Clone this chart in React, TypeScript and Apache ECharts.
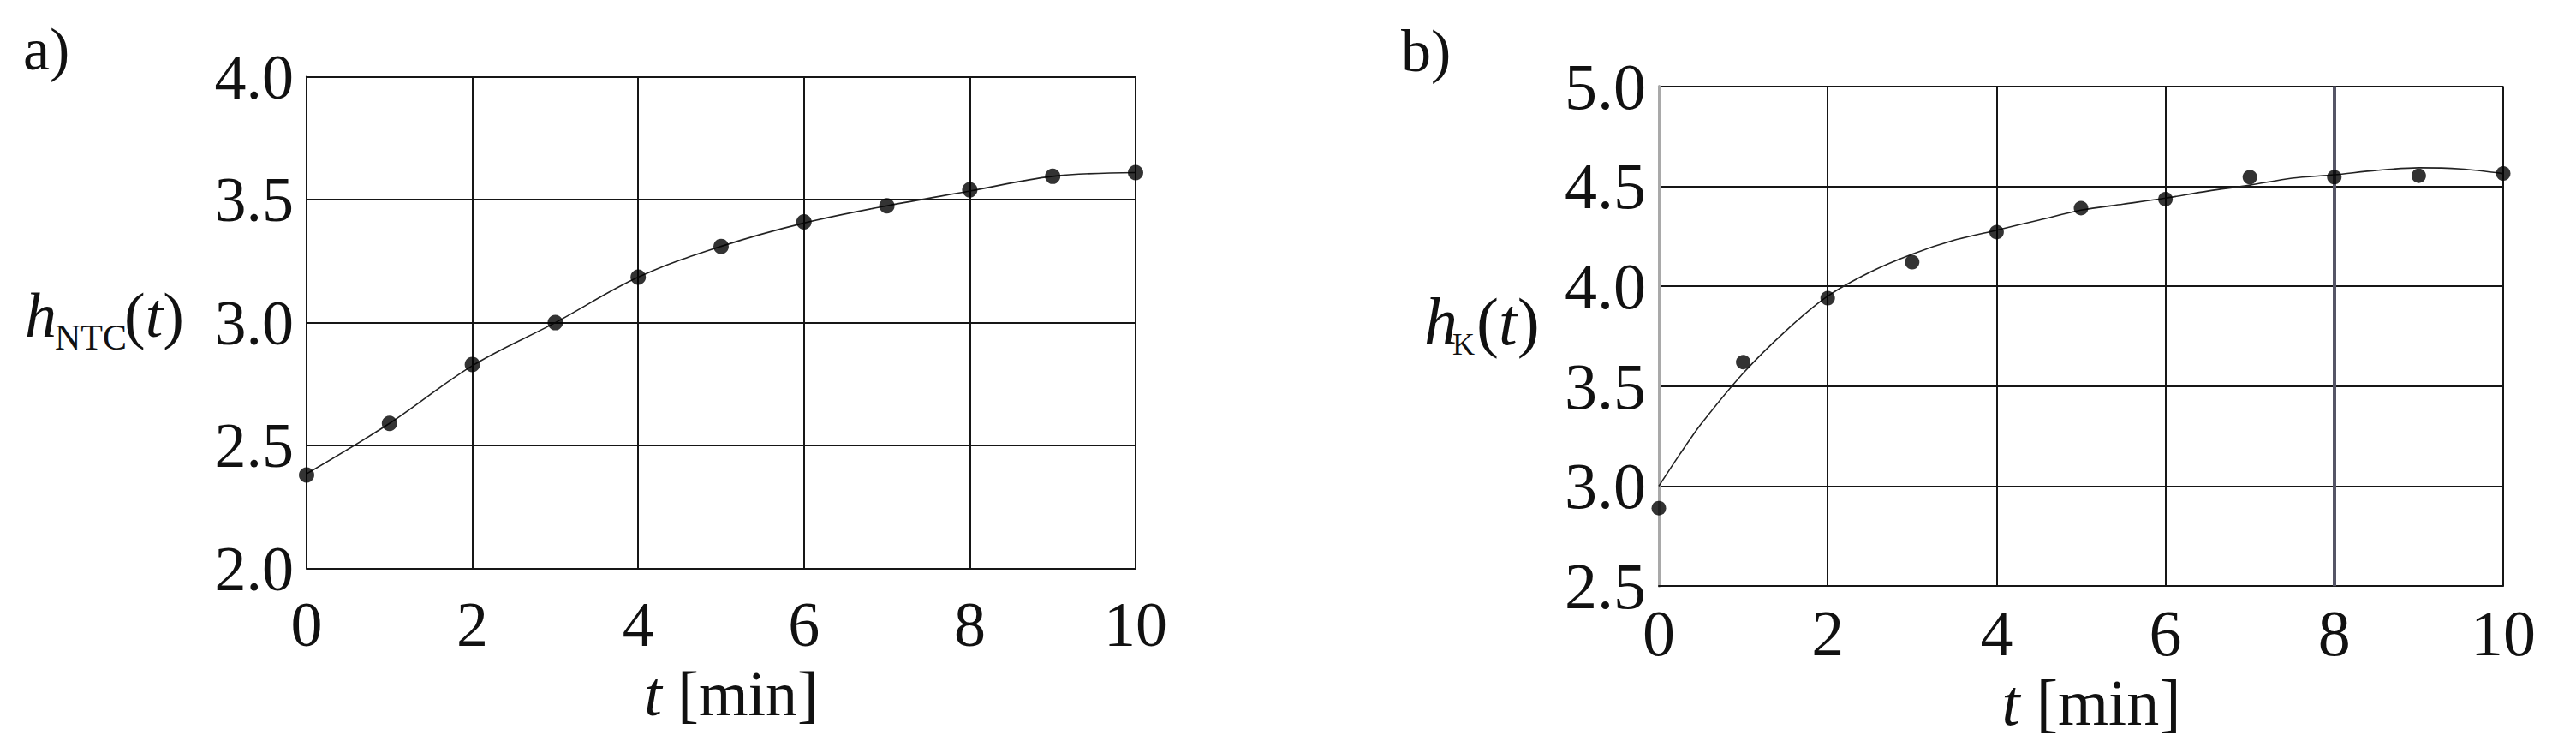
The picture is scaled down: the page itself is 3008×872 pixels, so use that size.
import { useEffect, useRef } from "react";
import * as echarts from "echarts";

// ---- data ----
const tPoints = [0, 1, 2, 3, 4, 5, 6, 7, 8, 9, 10];
const hNTC = [2.38, 2.59, 2.83, 3.0, 3.185, 3.31, 3.41, 3.475, 3.54, 3.595, 3.61];
const fitNTC = [2.385, 2.59, 2.825, 3.0, 3.185, 3.31, 3.405, 3.475, 3.535, 3.595, 3.61];

const hK = [2.89, 3.62, 3.94, 4.12, 4.27, 4.39, 4.435, 4.545, 4.545, 4.552, 4.563];
const fitKT = [0, 0.25, 0.5, 1, 1.5, 2, 2.5, 3, 3.5, 4, 4.5, 5, 5.5, 6, 6.5, 7, 7.5, 8, 8.5, 9, 9.5, 10];
const fitK = [3.0, 3.16, 3.31, 3.565, 3.775, 3.95, 4.07, 4.16, 4.23, 4.28, 4.33, 4.38, 4.41, 4.44, 4.475, 4.505, 4.54, 4.557, 4.579, 4.592, 4.586, 4.563];

const panelLabels = ["a)", "b)"];
const yTitleSubs = ["NTC", "K"];
const xTitle = "{i|t} [min]";

const FONT = "'Liberation Serif', 'DejaVu Serif', serif";
const INK = "#161616";

const zip = (xs: number[], ys: number[]) => xs.map((x, i) => [x, ys[i]]);

export default function App() {
  const ref = useRef<HTMLDivElement>(null);
  useEffect(() => {
    document.body.style.margin = "0";
    const chart = echarts.init(ref.current!, undefined, { renderer: "svg" });

    const xAxisBase = (gridIndex: number, margin: number, nameGap: number, fs: number, showMin: boolean) => ({
      type: "value",
      gridIndex,
      min: 0,
      max: 10,
      interval: 2,
      axisLine: { show: true, lineStyle: { color: INK, width: 2 } },
      axisTick: { show: false },
      splitLine: { show: true, showMinLine: showMin, lineStyle: { color: INK, width: 2 } },
      axisLabel: { fontSize: fs, fontFamily: FONT, color: "#111", margin },
      name: xTitle,
      nameLocation: "middle",
      nameGap,
      nameTextStyle: {
        fontSize: fs,
        fontFamily: FONT,
        color: "#111",
        padding: [0, 0, 0, 24],
        rich: { i: { fontSize: fs, fontFamily: FONT, fontStyle: "italic", color: "#111" } },
      },
    });

    const yAxisBase = (gridIndex: number, min: number, max: number, fs: number, lineColor: string, lineWidth: number) => ({
      type: "value",
      gridIndex,
      min,
      max,
      interval: 0.5,
      axisLine: { show: true, lineStyle: { color: lineColor, width: lineWidth } },
      axisTick: { show: false },
      splitLine: { show: true, lineStyle: { color: INK, width: 2 } },
      axisLabel: {
        fontSize: fs,
        fontFamily: FONT,
        color: "#111",
        margin: 15,
        formatter: (v: number) => v.toFixed(1),
      },
    });

    const text = (x: number, y: number, t: string, fs: number, italic = false) => ({
      type: "text",
      x,
      y,
      style: {
        text: t,
        fontSize: fs,
        fontFamily: FONT,
        fontStyle: italic ? "italic" : "normal",
        fill: "#111",
        verticalAlign: "middle",
        align: "left",
      },
    });

    const paren = (x: number, y: number, fs: number) => ({
      type: "text",
      x,
      y,
      style: {
        text: "{r|(}{i|t}{r|)}",
        fontSize: fs,
        fontFamily: FONT,
        fill: "#111",
        verticalAlign: "middle",
        align: "left",
        rich: {
          r: { fontSize: fs, fontFamily: FONT, fill: "#111" },
          i: { fontSize: fs, fontFamily: FONT, fontStyle: "italic", fill: "#111" },
        },
      },
    });

    chart.setOption({
      animation: false,
      backgroundColor: "#ffffff",
      grid: [
        { left: 358, top: 89.6, width: 968, height: 574, containLabel: false, outerBoundsMode: "none" },
        { left: 1937, top: 100.6, width: 986, height: 583.6, containLabel: false, outerBoundsMode: "none" },
      ],
      xAxis: [xAxisBase(0, 28, 109, 74, true), xAxisBase(1, 17, 88, 76, false)],
      yAxis: [yAxisBase(0, 2, 4, 74, INK, 2), yAxisBase(1, 2.5, 5, 76, "#a9a9a9", 3)],
      series: [
        {
          type: "line",
          xAxisIndex: 0,
          yAxisIndex: 0,
          data: zip(tPoints, fitNTC),
          smooth: 0.35,
          showSymbol: false,
          lineStyle: { color: "#222", width: 1.6 },
          z: 3,
        },
        {
          type: "scatter",
          xAxisIndex: 0,
          yAxisIndex: 0,
          data: zip(tPoints, hNTC),
          symbolSize: 18,
          clip: false,
          itemStyle: { color: "#000" },
          z: 4,
        },
        {
          type: "line",
          xAxisIndex: 1,
          yAxisIndex: 1,
          data: zip(fitKT, fitK),
          smooth: 0.3,
          showSymbol: false,
          lineStyle: { color: "#222", width: 1.6 },
          z: 3,
          markLine: {
            silent: true,
            symbol: "none",
            label: { show: false },
            lineStyle: { color: "#555566", width: 4, type: "solid" },
            data: [{ xAxis: 8 }],
            z: 2,
          },
        },
        {
          type: "scatter",
          xAxisIndex: 1,
          yAxisIndex: 1,
          data: zip(tPoints, hK),
          symbolSize: 17,
          clip: false,
          itemStyle: { color: "#000" },
          z: 4,
        },
      ],
      graphic: [
        text(27, 57, panelLabels[0], 70),
        text(1636, 59, panelLabels[1], 70),
        // left y title h_NTC(t)
        text(29, 368, "h", 74, true),
        text(64, 394, yTitleSubs[0], 42),
        paren(145, 368, 74),
        // right y title h_K(t)
        text(1663, 375, "h", 78, true),
        text(1696, 402, yTitleSubs[1], 36),
        paren(1724, 375, 78),
      ],
    });
    return () => chart.dispose();
  }, []);
  return (
    <div
      ref={ref}
      style={{ position: "fixed", left: 0, top: 0, width: 3008, height: 872, background: "#fff" }}
    />
  );
}
